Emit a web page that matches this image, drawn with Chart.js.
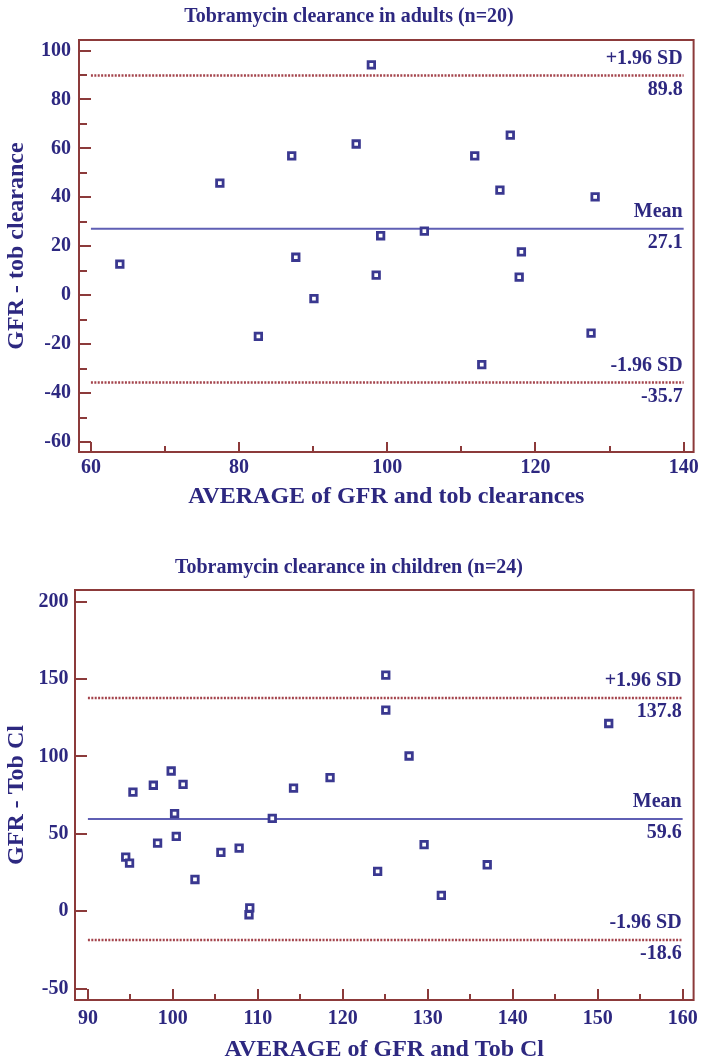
<!DOCTYPE html>
<html>
<head>
<meta charset="utf-8">
<title>Tobramycin clearance</title>
<script src="https://cdn.jsdelivr.net/npm/chart.js@4"></script>
<style>
  html, body { margin: 0; padding: 0; background: #fff; overflow: hidden; }
  #adults { position: absolute; left: 0; top: 0; }
  #children { position: absolute; left: 0; top: 530px; }
</style>
</head>
<body>
<canvas id="adults" width="701" height="530"></canvas>
<canvas id="children" width="701" height="535"></canvas>
<script>
// adults (n=20): average of GFR and tob clearance vs difference
const adultAvg  = [63.9, 77.4, 82.6, 87.1, 87.65, 90.1, 95.8, 97.85, 98.5, 99.1, 105.0, 111.8, 112.75, 115.2, 116.6, 117.8, 118.1, 127.5, 128.05];
const adultDiff = [12.7, 45.8, -16.8, 56.9, 15.5, -1.4, 61.8, 94.1, 8.2, 24.3, 26.2, 56.9, -28.4, 42.9, 65.4, 7.4, 17.7, -15.5, 40.2];
const adultLimits = [89.8, 27.1, -35.7];
const adultXTicks = [60, 80, 100, 120, 140];
const adultXMinor = [70, 90, 110, 130];
const adultYTicks = [-60, -40, -20, 0, 20, 40, 60, 80, 100];
const adultYMinor = [-50, -30, -10, 10, 30, 50, 70, 90];

// children (n=24)
const childAvg  = [125.06, 125.06, 127.8, 95.3, 97.7, 99.8, 101.2, 100.2, 111.7, 114.2, 118.5, 100.4, 94.45, 94.9, 98.2, 102.6, 105.65, 107.8, 109.05, 108.96, 124.1, 129.57, 137.0, 131.6, 151.3];
const childDiff = [152.6, 129.9, 100.3, 77.0, 81.4, 90.6, 82.0, 63.1, 60.0, 79.6, 86.3, 48.3, 35.0, 31.1, 44.0, 20.5, 38.0, 40.8, 2.2, -2.3, 25.7, 43.0, 30.0, 10.2, 121.3];
const childLimits = [137.8, 59.6, -18.6];
const childXTicks = [90, 100, 110, 120, 130, 140, 150, 160];
const childXMinor = [95, 105, 115, 125, 135, 145, 155];
const childYTicks = [-50, 0, 50, 100, 150, 200];
const childYMinor = [];

const limitNames = ['+1.96 SD', 'Mean', '-1.96 SD'];

const textColor = '#2d2880';
const axisColor = '#8c3a3a';
const pointColor = '#3a3890';
const meanColor = '#5f5fb4';
const sdColor = '#a4444c';
const serif = '"Liberation Serif", "Times New Roman", serif';
const font = (size) => ({ family: serif, size: size, weight: 'bold' });

// box round the plot area
const framePlugin = {
    id: 'frame',
    beforeDatasetsDraw(chart) {
        const { ctx, chartArea: a } = chart;
        ctx.save();
        ctx.strokeStyle = axisColor;
        ctx.lineWidth = 2;
        ctx.strokeRect(a.left, a.top, a.right - a.left, a.bottom - a.top);
        ctx.restore();
    },
};

// "+1.96 SD / 89.8" style labels at the right end of each line
const limitLabelPlugin = {
    id: 'limitLabels',
    afterDatasetsDraw(chart, args, opts) {
        const { ctx, scales } = chart;
        const x = scales.x.getPixelForValue(opts.lineTo) - 1;
        ctx.save();
        ctx.fillStyle = textColor;
        ctx.font = 'bold 20px ' + serif;
        ctx.textAlign = 'right';
        ctx.textBaseline = 'middle';
        opts.limits.forEach((v, i) => {
            const y = scales.y.getPixelForValue(v);
            ctx.fillText(limitNames[i], x, y - 17);
            ctx.fillText(v.toFixed(1), x, y + 14);
        });
        ctx.restore();
    },
};

const makeChart = (id, o) => {
    const points = o.avg.map((x, i) => ({ x: x, y: o.diff[i] }));
    const lineSets = o.limits.map((v, i) => ({
        type: 'line',
        data: [{ x: o.lineFrom, y: v }, { x: o.lineTo, y: v }],
        borderColor: i === 1 ? meanColor : sdColor,
        borderWidth: i === 1 ? 2 : 2.5,
        borderDash: i === 1 ? [] : [2, 1.4],
        pointRadius: 0,
    }));

    const tickGrid = (len) => ({
        drawOnChartArea: false,
        drawTicks: true,
        tickLength: -len,
        tickColor: axisColor,
        tickWidth: 2,
        lineWidth: 2,
    });

    return new Chart(document.getElementById(id), {
        type: 'scatter',
        data: {
            datasets: [{
                data: points,
                pointStyle: 'rect',
                pointRadius: 4.6,
                pointHoverRadius: 4.6,
                borderWidth: 2.8,
                borderColor: pointColor,
                backgroundColor: '#fff',
            }].concat(lineSets),
        },
        options: {
            responsive: false,
            animation: false,
            layout: { padding: { left: 0, right: 3, top: 0, bottom: 0 } },
            scales: {
                x: {
                    type: 'linear', position: 'bottom', weight: 1,
                    min: o.xMin, max: o.xMax,
                    afterBuildTicks: (s) => { s.ticks = o.xTicks.map((v) => ({ value: v })); },
                    afterFit: (s) => { s.height = o.xHeight; s.paddingLeft = 0; s.paddingRight = 0; },
                    ticks: { autoSkip: false, maxRotation: 0, color: textColor, font: font(20), padding: o.xPad },
                    grid: tickGrid(o.xTickLen),
                    border: { display: false },
                    title: { display: true, text: o.xTitle, color: textColor, font: font(24), padding: { top: 0, bottom: o.xTitlePad } },
                },
                xMinor: {
                    type: 'linear', position: 'bottom', weight: 0,
                    min: o.xMin, max: o.xMax,
                    afterBuildTicks: (s) => { s.ticks = o.xMinor.map((v) => ({ value: v })); },
                    afterFit: (s) => { s.height = 0; s.paddingLeft = 0; s.paddingRight = 0; },
                    ticks: { display: false, autoSkip: false },
                    grid: tickGrid(o.xMinorLen),
                    border: { display: false },
                },
                y: {
                    type: 'linear', position: 'left', weight: 1,
                    min: o.yMin, max: o.yMax,
                    afterBuildTicks: (s) => { s.ticks = o.yTicks.map((v) => ({ value: v })); },
                    afterFit: (s) => { s.width = o.yWidth; s.paddingTop = 0; s.paddingBottom = 0; },
                    ticks: { autoSkip: false, color: textColor, font: font(20), padding: o.yPad },
                    grid: tickGrid(o.yTickLen),
                    border: { display: false },
                    title: { display: true, text: o.yTitle, color: textColor, font: font(24), padding: { top: 2.6, bottom: 0 } },
                },
                yMinor: {
                    type: 'linear', position: 'left', weight: 0,
                    min: o.yMin, max: o.yMax,
                    afterBuildTicks: (s) => { s.ticks = o.yMinor.map((v) => ({ value: v })); },
                    afterFit: (s) => { s.width = 0; s.paddingTop = 0; s.paddingBottom = 0; },
                    ticks: { display: false, autoSkip: false },
                    grid: tickGrid(o.yMinorLen),
                    border: { display: false },
                },
            },
            plugins: {
                legend: { display: false },
                tooltip: { enabled: false },
                title: {
                    display: true, text: o.title, color: textColor, font: font(20),
                    padding: { top: o.titleTop, bottom: o.titleBottom },
                },
                limitLabels: { limits: o.limits, lineTo: o.lineTo },
            },
        },
        plugins: [framePlugin, limitLabelPlugin],
    });
};

makeChart('adults', {
    title: 'Tobramycin clearance in adults (n=20)',
    xTitle: 'AVERAGE of GFR and tob clearances',
    yTitle: 'GFR - tob clearance',
    avg: adultAvg, diff: adultDiff, limits: adultLimits,
    xTicks: adultXTicks, xMinor: adultXMinor, yTicks: adultYTicks, yMinor: adultYMinor,
    lineFrom: 60, lineTo: 140,
    xMin: 58.39, xMax: 141.34, yMin: -64.1, yMax: 104.3,
    titleTop: 5, titleBottom: 11,
    yWidth: 79, yPad: 20, yTickLen: 12, yMinorLen: 8,
    xHeight: 78, xPad: 14, xTickLen: 10, xMinorLen: 6, xTitlePad: 18.6,
});

makeChart('children', {
    title: 'Tobramycin clearance in children (n=24)',
    xTitle: 'AVERAGE of GFR and Tob Cl',
    yTitle: 'GFR - Tob Cl',
    avg: childAvg, diff: childDiff, limits: childLimits,
    xTicks: childXTicks, xMinor: childXMinor, yTicks: childYTicks, yMinor: childYMinor,
    lineFrom: 90, lineTo: 160,
    xMin: 88.48, xMax: 161.29, yMin: -57.4, yMax: 207.6,
    titleTop: 26, titleBottom: 10,
    yWidth: 75, yPad: 18.5, yTickLen: 12, yMinorLen: 6,
    xHeight: 65, xPad: 18, xTickLen: 11, xMinorLen: 6, xTitlePad: 0.6,
});
</script>
</body>
</html>
